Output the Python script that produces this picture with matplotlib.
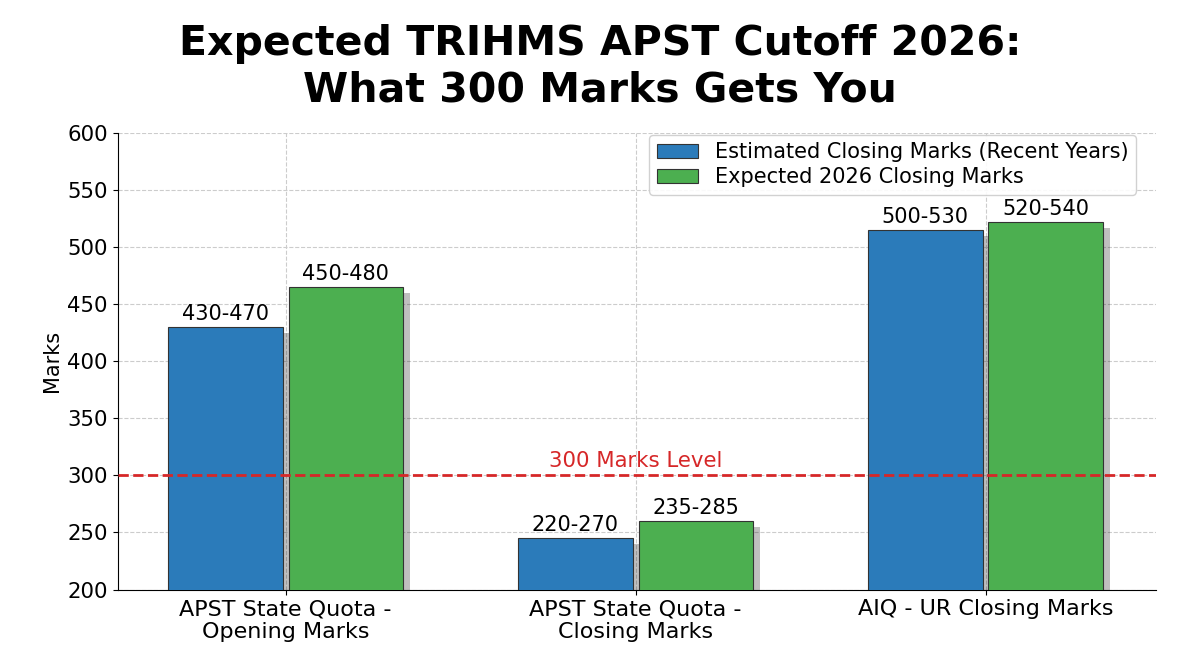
import numpy as np
import matplotlib
matplotlib.use('Agg')
import matplotlib.pyplot as plt
import matplotlib.patheffects as pe
from matplotlib.patches import Patch

# Данные
categories = ['APST State Quota -\nOpening Marks', 'APST State Quota -\nClosing Marks', 'AIQ - UR Closing Marks']
recent_vals = [430, 245, 515]
expected_vals = [465, 260, 522]
recent_labels = ['430-470', '220-270', '500-530']
expected_labels = ['450-480', '235-285', '520-540']
series_names = ['Estimated Closing Marks (Recent Years)', 'Expected 2026 Closing Marks']
threshold = 300

blue = '#2b7bba'
green = '#4caf50'

fig, ax = plt.subplots(figsize=(12, 6.55), dpi=100)
x = np.arange(len(categories))
w = 0.327
off = 0.172

shadow = [pe.SimplePatchShadow(offset=(5, -4), shadow_rgbFace='black', alpha=0.25), pe.Normal()]
b1 = ax.bar(x - off, recent_vals, w, color=blue, edgecolor='#333333', linewidth=0.8,
            zorder=3, path_effects=shadow)
b2 = ax.bar(x + off, expected_vals, w, color=green, edgecolor='#333333', linewidth=0.8,
            zorder=3, path_effects=shadow)

for bar, lab in zip(b1, recent_labels):
    ax.text(bar.get_x() + bar.get_width() / 2, bar.get_height() + 3, lab,
            ha='center', va='bottom', fontsize=15, zorder=4)
for bar, lab in zip(b2, expected_labels):
    ax.text(bar.get_x() + bar.get_width() / 2, bar.get_height() + 3, lab,
            ha='center', va='bottom', fontsize=15, zorder=4)

# Линия 300 баллов
ax.axhline(threshold, color='#d62728', linestyle='--', linewidth=2, zorder=5)
ax.text(1, threshold + 4, '300 Marks Level', color='#d62728', ha='center', va='bottom', fontsize=15.3)

ax.set_ylim(200, 600)
ax.set_xlim(-0.48, 2.486)
ax.set_xticks(x)
ax.set_xticklabels(categories, fontsize=16)
ax.tick_params(axis='y', labelsize=15.3)
ax.set_ylabel('Marks', fontsize=15)
ax.grid(True, linestyle='--', color='#cccccc', linewidth=0.8, zorder=0)
ax.spines['top'].set_visible(False)
ax.spines['right'].set_visible(False)

fig.suptitle('Expected TRIHMS APST Cutoff 2026:\nWhat 300 Marks Gets You',
             fontsize=29.5, fontweight='bold', x=0.5, y=0.963)

handles = [Patch(facecolor=blue, edgecolor='#333333', linewidth=0.8),
           Patch(facecolor=green, edgecolor='#333333', linewidth=0.8)]
ax.legend(handles, series_names, loc='upper right', bbox_to_anchor=(0.985, 1.005),
          fontsize=15, framealpha=0.9, labelspacing=0.25, handlelength=2.0,
          borderaxespad=0.2, borderpad=0.35)

plt.subplots_adjust(left=0.098, right=0.963, top=0.797, bottom=0.1)
plt.savefig('out.png', dpi=100)
